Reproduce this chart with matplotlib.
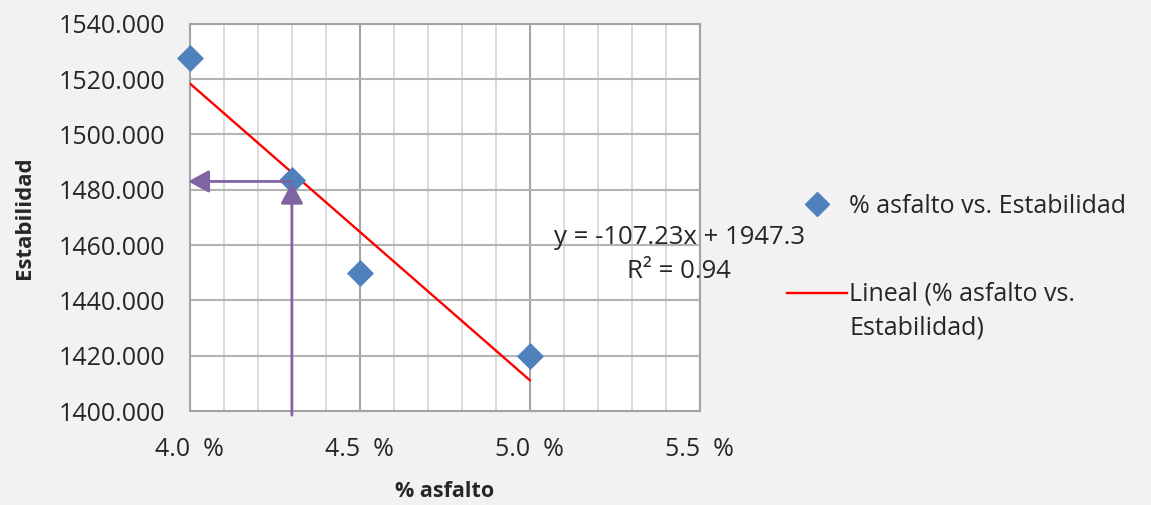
import matplotlib
matplotlib.use("Agg")
import matplotlib.pyplot as plt
import numpy as np
from matplotlib.ticker import MultipleLocator, FuncFormatter
from matplotlib.lines import Line2D

plt.rcParams['font.family'] = ['Open Sans', 'DejaVu Sans']

# Datos del ensayo
asfalto = [4.0, 4.3, 4.5, 5.0]            # % asfalto
estabilidad = [1527.5, 1483.5, 1450.0, 1420.0]

# Recta de ajuste lineal
pendiente = -107.23
intercepto = 1947.3
r2 = 0.94
x_ajuste = [4.0, 5.0]

# Lectura en la recta para el contenido de asfalto elegido
lectura_x = 4.3
lectura_y = 1482.5

y_ticks = [1400, 1420, 1440, 1460, 1480, 1500, 1520, 1540]
x_ticks = [4.0, 4.5, 5.0, 5.5]

texto = '#262626'

fig = plt.figure(figsize=(11.51, 5.05), dpi=100, facecolor='#f2f2f2')
ax = fig.add_axes([0.165, 0.186, 0.443, 0.767])
ax.set_facecolor('white')

ax.set_xlim(4.0, 5.5)
ax.set_ylim(1400, 1540)
ax.set_xticks(x_ticks)
ax.xaxis.set_minor_locator(MultipleLocator(0.1))
ax.set_yticks(y_ticks)
ax.xaxis.set_major_formatter(FuncFormatter(lambda v, p: f"{v:.1f}  %"))
ax.yaxis.set_major_formatter(FuncFormatter(lambda v, p: f"{v:.3f}"))
ax.tick_params(axis='both', which='both', length=0, labelsize=18, colors=texto)
ax.tick_params(axis='y', pad=18)
ax.tick_params(axis='x', pad=19)

ax.grid(axis='x', which='minor', color='#d4d4d4', lw=1.2, zorder=0)
ax.grid(axis='x', which='major', color='#a3a3a3', lw=1.5, zorder=0)
ax.grid(axis='y', which='major', color='#b3b3b3', lw=1.5, zorder=0)
ax.set_axisbelow(True)
for s in ax.spines.values():
    s.set_color('#a3a3a3')
    s.set_linewidth(1.5)

# Puntos y recta de tendencia
ax.scatter(asfalto, estabilidad, marker='D', s=190, color='#4f81bd',
           zorder=4, clip_on=False, linewidths=0)
xa = np.array(x_ajuste)
ax.plot(xa, pendiente * xa + intercepto, color='#ff0000', lw=1.7, zorder=3)

# Flechas de lectura
flecha = dict(arrowstyle='-|>,head_length=0.55,head_width=0.3', color='#8064a2',
              lw=2.0, mutation_scale=23, shrinkA=0, shrinkB=0)
ax.annotate('', xy=(lectura_x, lectura_y), xytext=(lectura_x, 1398.5),
            arrowprops=flecha, annotation_clip=False, zorder=5)
ax.annotate('', xy=(3.995, lectura_y + 0.5), xytext=(lectura_x, lectura_y + 0.5),
            arrowprops=flecha, annotation_clip=False, zorder=5)

# Ecuación de la recta
ax.text(5.44, 1456.5, f"y = {pendiente:.2f}x + {intercepto:.1f}\nR² = {r2:.2f}",
        fontsize=18.5, color=texto, ha='center', va='center',
        linespacing=1.45, zorder=6, clip_on=False)

ax.set_xlabel('% asfalto', fontsize=15.5, fontweight='bold', color=texto, labelpad=13)
ax.set_ylabel('Estabilidad', fontsize=16, fontweight='bold', color=texto, labelpad=17)

handles = [
    Line2D([], [], marker='D', linestyle='none', color='#4f81bd', markersize=12),
    Line2D([], [], color='#ff0000', lw=1.7),
]
labels = ['% asfalto vs. Estabilidad', 'Lineal (% asfalto vs.\nEstabilidad)']
leg = fig.legend(handles, labels, loc='upper left', bbox_to_anchor=(0.664, 0.66),
                 frameon=False, fontsize=18, labelcolor=texto, handlelength=2.4,
                 handletextpad=0.1, labelspacing=2.5)
for t in leg.get_texts():
    t.set_linespacing(1.45)
# la línea de la tendencia a la altura del primer renglón
linea = leg.legend_handles[1]
linea.set_ydata(np.asarray(linea.get_ydata()) + 0.75 * 18)

fig.savefig('out.png', dpi=100, facecolor=fig.get_facecolor())
